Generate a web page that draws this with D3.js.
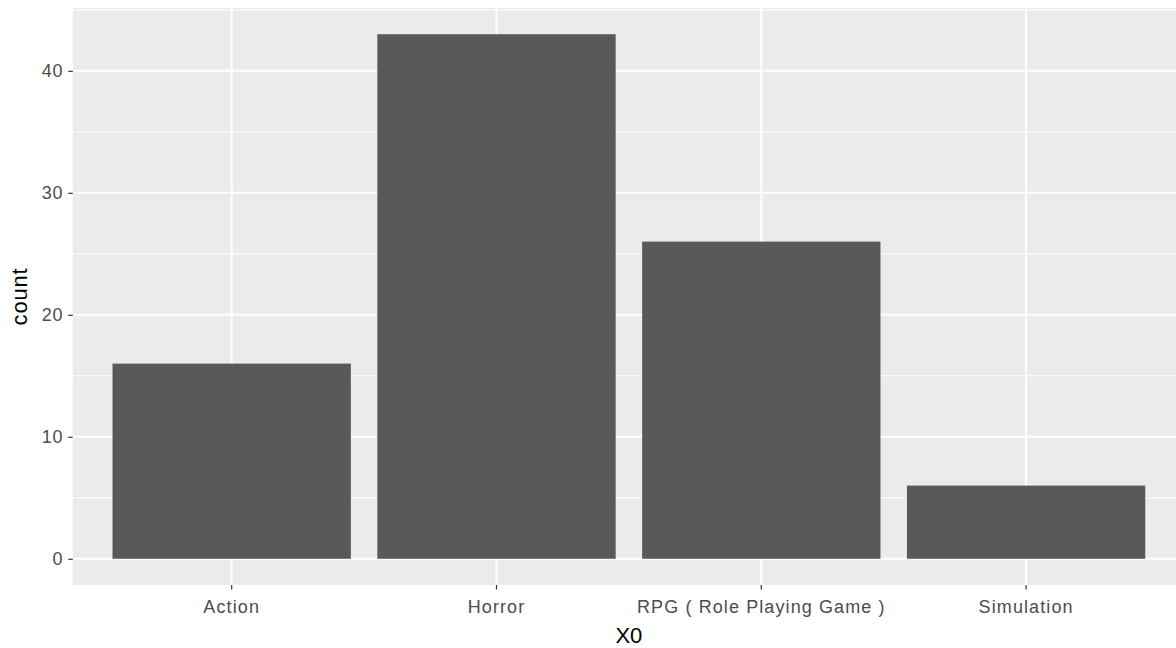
<!DOCTYPE html>
<html>
<head>
<meta charset="utf-8">
<script src="https://cdn.jsdelivr.net/npm/d3@7"></script>
<style>
  html, body { margin: 0; padding: 0; background: #fff; }
  svg { display: block; }
  text { font-family: "Liberation Sans", Arial, sans-serif; }
</style>
</head>
<body>
<svg id="chart" width="1176" height="648"></svg>
<script>
const categories = ["Action", "Horror", "RPG ( Role Playing Game )", "Simulation"];
const counts = [16, 43, 26, 6];
const yTicks = [0, 10, 20, 30, 40];
const yMinorTicks = [5, 15, 25, 35, 45];
const xTitle = "X0";
const yTitle = "count";

const W = 1176, H = 648;
const panel = { left: 72.8, right: 1185, top: 8, bottom: 585 };

const svg = d3.select("#chart");
svg.append("rect").attr("width", W).attr("height", H).attr("fill", "#fff");

const maxV = d3.max(counts);
const x = d3.scaleBand()
  .domain(categories)
  .range([panel.left, panel.right])
  .paddingInner(0.1)
  .paddingOuter(0.15);
const y = d3.scaleLinear()
  .domain([-maxV * 0.05, maxV * 1.05])
  .range([panel.bottom, panel.top]);

// panel background
svg.append("rect")
  .attr("x", panel.left).attr("y", panel.top)
  .attr("width", panel.right - panel.left)
  .attr("height", panel.bottom - panel.top)
  .attr("fill", "#EBEBEB");

const g = svg.append("g");
// minor grid
g.selectAll("line.minor").data(yMinorTicks).enter().append("line")
  .attr("x1", panel.left).attr("x2", panel.right)
  .attr("y1", d => y(d)).attr("y2", d => y(d))
  .attr("stroke", "#fff").attr("stroke-width", 1);
// major grid
g.selectAll("line.majorY").data(yTicks).enter().append("line")
  .attr("x1", panel.left).attr("x2", panel.right)
  .attr("y1", d => y(d)).attr("y2", d => y(d))
  .attr("stroke", "#fff").attr("stroke-width", 2);
g.selectAll("line.majorX").data(categories).enter().append("line")
  .attr("y1", panel.top).attr("y2", panel.bottom)
  .attr("x1", d => x(d) + x.bandwidth() / 2).attr("x2", d => x(d) + x.bandwidth() / 2)
  .attr("stroke", "#fff").attr("stroke-width", 2);

// bars
svg.selectAll("rect.bar").data(categories).enter().append("rect")
  .attr("x", d => x(d))
  .attr("width", x.bandwidth())
  .attr("y", (d, i) => y(counts[i]))
  .attr("height", (d, i) => y(0) - y(counts[i]))
  .attr("fill", "#595959");

// y axis
const yAxis = d3.axisLeft(y).tickValues(yTicks).tickSize(4.5).tickPadding(5);
const ya = svg.append("g").attr("transform", `translate(${panel.left},0)`).call(yAxis);
ya.select(".domain").remove();
ya.selectAll(".tick line").attr("stroke", "#333").attr("stroke-width", 1.2);
ya.selectAll(".tick text").attr("fill", "#4D4D4D")
  .style("font-size", "18px").style("letter-spacing", "0.8px")
  .attr("font-family", null);

// x axis
const xAxis = d3.axisBottom(x).tickSize(4.5).tickPadding(11);
const xa = svg.append("g").attr("transform", `translate(0,${panel.bottom})`).call(xAxis);
xa.select(".domain").remove();
xa.selectAll(".tick line").attr("stroke", "#333").attr("stroke-width", 1.2);
xa.selectAll(".tick text").attr("fill", "#4D4D4D")
  .style("font-size", "18px").style("letter-spacing", "1.1px")
  .attr("font-family", null);

// titles
svg.append("text")
  .attr("x", (panel.left + panel.right) / 2).attr("y", 643)
  .attr("text-anchor", "middle").attr("fill", "#000")
  .style("font-size", "22px")
  .text(xTitle);
svg.append("text")
  .attr("transform", `translate(27,${(panel.top + panel.bottom) / 2}) rotate(-90)`)
  .attr("text-anchor", "middle").attr("fill", "#000")
  .style("font-size", "22px").style("letter-spacing", "0.8px")
  .text(yTitle);
</script>
</body>
</html>
